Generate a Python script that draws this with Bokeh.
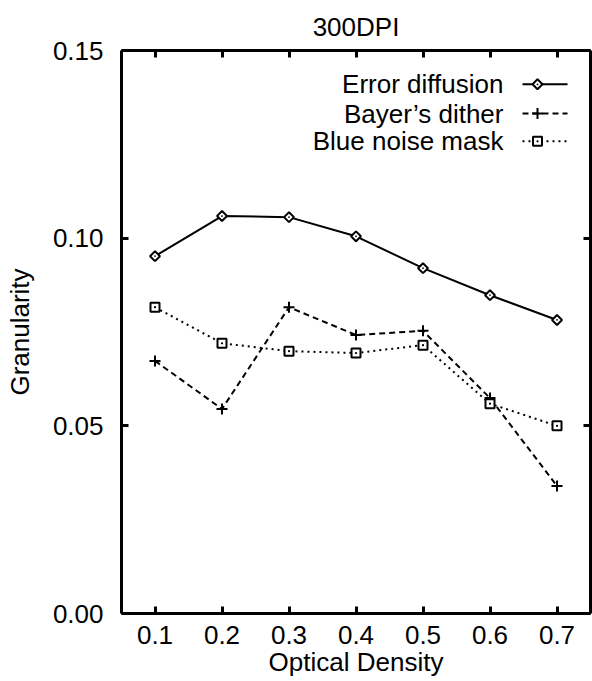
import math
from bokeh.plotting import figure
from bokeh.models import LinearAxis, Range1d, FixedTicker, Label, Title, NumeralTickFormatter
from bokeh.embed import file_html
from bokeh.resources import INLINE

density = [0.1, 0.2, 0.3, 0.4, 0.5, 0.6, 0.7]
error_diffusion = [0.0952, 0.1059, 0.1056, 0.1005, 0.0920, 0.0848, 0.0782]
bayer_dither = [0.0673, 0.0545, 0.0816, 0.0742, 0.0753, 0.0574, 0.0340]
blue_noise = [0.0816, 0.0720, 0.0699, 0.0694, 0.0715, 0.0559, 0.0500]
series_names = ["Error diffusion", "Bayer\u2019s dither", "Blue noise mask"]
x_ticks = [0.1, 0.2, 0.3, 0.4, 0.5, 0.6, 0.7]
y_ticks = [0.0, 0.05, 0.10, 0.15]

FONT = "Liberation Sans"
FS = "26px"

p = figure(width=592, height=681, output_backend="svg", toolbar_location=None,
           x_range=Range1d(0.05, 0.75), y_range=Range1d(0.0, 0.15),
           x_axis_location=None, y_axis_location=None,
           min_border_left=121, min_border_right=2, min_border_top=49, min_border_bottom=68)
p.grid.visible = False
p.outline_line_color = None
p.background_fill_color = "white"
p.border_fill_color = "white"


def style_axis(ax, ticks, labels=True):
    ax.axis_line_width = 3
    ax.axis_line_color = "black"
    ax.major_tick_in = 7
    ax.major_tick_out = 0
    ax.major_tick_line_width = 3
    ax.minor_tick_line_color = None
    ax.major_label_text_font = FONT
    ax.major_label_text_font_size = FS
    ax.major_label_text_color = "black"
    ax.axis_label_text_font = FONT
    ax.axis_label_text_font_size = FS
    ax.axis_label_text_font_style = "normal"
    ax.axis_label_text_color = "black"
    if not labels:
        ax.major_label_overrides = {t: "" for t in ticks}
        ax.major_label_standoff = 0


xb = LinearAxis(ticker=FixedTicker(ticks=x_ticks), axis_label="Optical Density")
style_axis(xb, x_ticks)
xb.major_label_standoff = 12
xb.axis_label_standoff = 0
xb.formatter = NumeralTickFormatter(format="0.0")
p.add_layout(xb, "below")

yl = LinearAxis(ticker=FixedTicker(ticks=y_ticks), axis_label="Granularity")
style_axis(yl, y_ticks)
yl.major_label_standoff = 18
yl.axis_label_standoff = 15
yl.formatter = NumeralTickFormatter(format="0.00")
p.add_layout(yl, "left")

xt = LinearAxis(ticker=FixedTicker(ticks=x_ticks))
style_axis(xt, x_ticks, labels=False)
p.add_layout(xt, "above")

yr = LinearAxis(ticker=FixedTicker(ticks=y_ticks))
style_axis(yr, y_ticks, labels=False)
p.add_layout(yr, "right")

p.title = Title(text="300DPI", text_font=FONT, text_font_size=FS, text_font_style="normal",
                align="center", text_color="black", standoff=18)

# series
p.line(density, error_diffusion, line_color="black", line_width=2)
p.scatter(density, error_diffusion, marker="square_dot", angle=math.pi / 4, size=7,
          line_color="black", line_width=2, fill_color="white")

p.line(density, bayer_dither, line_color="black", line_width=2, line_dash="6 4")
p.scatter(density, bayer_dither, marker="cross", size=11, line_color="black", line_width=2)

p.line(density, blue_noise, line_color="black", line_width=2, line_dash="2 4")
p.scatter(density, blue_noise, marker="square_dot", size=9,
          line_color="black", line_width=2, fill_color="white")

# legend (text left, sample right)
leg_text_x = 0.6201
leg_line_x0, leg_line_x1, leg_mark_x = 0.6485, 0.7157, 0.6709
leg_rows = [0.1410, 0.1332, 0.1258]
dashes = ["solid", "6 4", "2 4"]
for name, yy, dash in zip(series_names, leg_rows, dashes):
    p.add_layout(Label(x=leg_text_x, y=yy, text=name, text_align="right", text_baseline="middle",
                       text_font=FONT, text_font_size=FS, text_color="black"))
    p.line([leg_line_x0, leg_line_x1], [yy, yy], line_color="black", line_width=2, line_dash=dash)
p.scatter([leg_mark_x], [leg_rows[0]], marker="square_dot", angle=math.pi / 4, size=7,
          line_color="black", line_width=2, fill_color="white")
p.scatter([leg_mark_x], [leg_rows[1]], marker="cross", size=11, line_color="black", line_width=2)
p.scatter([leg_mark_x], [leg_rows[2]], marker="square_dot", size=9,
          line_color="black", line_width=2, fill_color="white")

open("out.html", "w").write(file_html(p, INLINE))
